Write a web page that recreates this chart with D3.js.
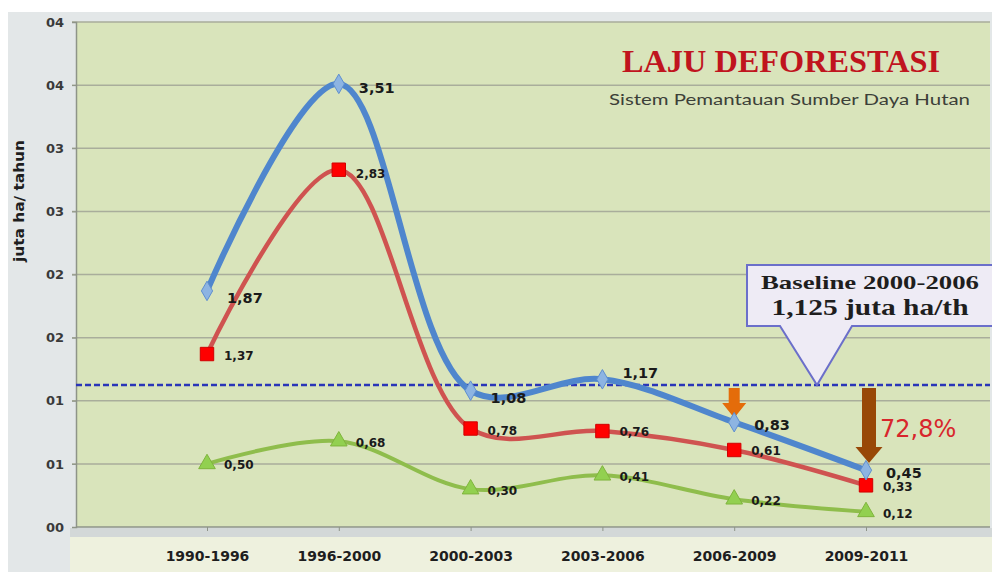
<!DOCTYPE html>
<html>
<head>
<meta charset="utf-8">
<script src="https://cdn.jsdelivr.net/npm/d3@7"></script>
<style>
  body { margin: 0; background: #fff; }
  svg { display: block; }
</style>
</head>
<body>
<div class="container"></div>
<script>
// data
const periods = ["1990-1996", "1996-2000", "2000-2003", "2003-2006", "2006-2009", "2009-2011"];
const totalRate = [1.87, 3.51, 1.08, 1.17, 0.83, 0.45];
const forestRate = [1.37, 2.83, 0.78, 0.76, 0.61, 0.33];
const otherRate = [0.50, 0.68, 0.30, 0.41, 0.22, 0.12];
const yTickValues = [0, 0.5, 1, 1.5, 2, 2.5, 3, 3.5, 4];
const yTickLabels = ["00", "01", "01", "02", "02", "03", "03", "04", "04"];
const baselineValue = 1.125;
const baselineLines = ["Baseline 2000-2006", "1,125 juta ha/th"];
const dropLabel = "72,8%";

const w = 992;
const h = 572;
const plot = { left: 76, right: 990, top: 22, bottom: 527 };

const svg = d3.select(".container")
    .append("svg")
    .attr("width", w)
    .attr("height", h);

// outer gray panel
svg.append("rect")
    .attr("x", 8).attr("y", 12)
    .attr("width", w - 8).attr("height", h - 12)
    .attr("fill", "#e3e7e8");

// plot background
svg.append("rect")
    .attr("x", plot.left).attr("y", plot.top)
    .attr("width", plot.right - plot.left).attr("height", plot.bottom - plot.top)
    .attr("fill", "#d9e4bb");

// strip + label band under the plot
svg.append("rect")
    .attr("x", 70).attr("y", plot.bottom + 1)
    .attr("width", w - 70).attr("height", 9)
    .attr("fill", "#d3d8d8");
svg.append("rect")
    .attr("x", 70).attr("y", 537)
    .attr("width", w - 70).attr("height", h - 537)
    .attr("fill", "#eef1de");

const xScale = d3.scalePoint()
    .domain(periods)
    .range([207, 866]);

const yScale = d3.scaleLinear()
    .domain([0, 4])
    .range([plot.bottom, plot.top]);

// gridlines
svg.append("g")
    .selectAll("line")
    .data(yTickValues.filter(v => v > 0))
    .enter()
    .append("line")
    .attr("x1", plot.left - 4)
    .attr("x2", plot.right)
    .attr("y1", d => yScale(d))
    .attr("y2", d => yScale(d))
    .attr("stroke", "#a9ad9b")
    .attr("stroke-width", 1.5);

// y axis
const yAxis = d3.axisLeft(yScale)
    .tickValues(yTickValues)
    .tickSize(4)
    .tickFormat((d, i) => yTickLabels[i]);

const gy = svg.append("g")
    .attr("transform", "translate(" + plot.left + ",0)")
    .call(yAxis);
gy.select(".domain").attr("stroke", "#8e9488").attr("stroke-width", 1.5);
gy.selectAll(".tick line").attr("stroke", "#8e9488");
gy.selectAll(".tick text")
    .attr("x", -12)
    .style("font-family", "DejaVu Sans")
    .style("font-weight", "bold")
    .style("font-size", "13px")
    .attr("fill", "#3a3a3a");

// x axis
const xAxis = d3.axisBottom(xScale).tickSize(4).tickPadding(20);
const gx = svg.append("g")
    .attr("transform", "translate(0," + plot.bottom + ")")
    .call(xAxis);
gx.select(".domain").attr("stroke", "#8e9488").attr("stroke-width", 1.5)
    .attr("d", "M" + plot.left + ",0H" + plot.right);
gx.selectAll(".tick line").attr("stroke", "#8e9488");
gx.selectAll(".tick text")
    .style("font-family", "DejaVu Sans")
    .style("font-weight", "bold")
    .style("font-size", "14px")
    .attr("fill", "#1e1e1e");

// y axis title
svg.append("text")
    .attr("transform", "translate(24,201) rotate(-90)")
    .attr("text-anchor", "middle")
    .attr("textLength", 122)
    .attr("lengthAdjust", "spacingAndGlyphs")
    .style("font-family", "DejaVu Sans")
    .style("font-weight", "bold")
    .style("font-size", "14px")
    .attr("fill", "#1e1e1e")
    .text("juta ha/ tahun");

// title
svg.append("text")
    .attr("x", 622).attr("y", 72)
    .attr("textLength", 318)
    .attr("lengthAdjust", "spacingAndGlyphs")
    .style("font-family", "Liberation Serif")
    .style("font-weight", "bold")
    .style("font-size", "31px")
    .attr("fill", "#c0141e")
    .text("LAJU DEFORESTASI");

svg.append("text")
    .attr("x", 609).attr("y", 105)
    .attr("textLength", 361)
    .attr("lengthAdjust", "spacingAndGlyphs")
    .style("font-family", "Lato")
    .style("font-size", "15px")
    .attr("fill", "#3c4038")
    .text("Sistem Pemantauan Sumber Daya Hutan");

// baseline dashed line
svg.append("line")
    .attr("x1", plot.left).attr("x2", plot.right)
    .attr("y1", yScale(baselineValue)).attr("y2", yScale(baselineValue))
    .attr("stroke", "#2a35b8")
    .attr("stroke-width", 2.5)
    .attr("stroke-dasharray", "6,3");

// callout
const by = yScale(baselineValue);
svg.append("path")
    .attr("d", "M747,265 H996 V326 H852 L817," + by + " L780,326 H747 Z")
    .attr("fill", "#eeebf5")
    .attr("stroke", "#6b6fca")
    .attr("stroke-width", 2);
svg.append("text")
    .attr("x", 870).attr("y", 289)
    .attr("text-anchor", "middle")
    .attr("textLength", 218)
    .attr("lengthAdjust", "spacingAndGlyphs")
    .style("font-family", "Liberation Serif")
    .style("font-weight", "bold")
    .style("font-size", "19px")
    .attr("fill", "#1e1e1e")
    .text(baselineLines[0]);
svg.append("text")
    .attr("x", 870).attr("y", 315)
    .attr("text-anchor", "middle")
    .attr("textLength", 197)
    .attr("lengthAdjust", "spacingAndGlyphs")
    .style("font-family", "Liberation Serif")
    .style("font-weight", "bold")
    .style("font-size", "23px")
    .attr("fill", "#1e1e1e")
    .text(baselineLines[1]);

// series
const series = [
    { values: otherRate, line: "#8fbd4c", width: 4, fill: "#92d050", stroke: "#7fb43c", shape: d3.symbolTriangle, size: 120,
      font: 12, dx: 17, dy: [5, 6, 6, 6, 6, 6] },
    { values: forestRate, line: "#cf5350", width: 4.5, fill: "#ff0000", stroke: "#d00000", shape: d3.symbolSquare, size: 180,
      font: 12, dx: 17, dy: [6, 8, 6, 5, 5, 6] },
    { values: totalRate, line: "#4f86cd", width: 6, fill: "#8db4e2", stroke: "#5f8fcf", shape: d3.symbolDiamond, size: 110,
      font: 14.5, dx: 20, dy: [12, 9, 12, -1, 8, 8] }
];

const line = d3.line()
    .x((d, i) => xScale(periods[i]))
    .y(d => yScale(d))
    .curve(d3.curveCatmullRom.alpha(0.5));

series.forEach(s => {
    svg.append("path")
        .datum(s.values)
        .attr("d", line)
        .attr("fill", "none")
        .attr("stroke", s.line)
        .attr("stroke-width", s.width)
        .attr("stroke-linejoin", "round");
});

// arrows
const arrows = [
    { period: "2006-2009", to: 418, color: "#e46c0a", shaft: 11, head: 24, headLen: 15 },
    { period: "2009-2011", to: 463, color: "#984807", shaft: 14, head: 27, headLen: 16 }
];
arrows.forEach(a => {
    const x = xScale(a.period) + (a.period === "2009-2011" ? 3 : 0);
    const y0 = by + 3;
    const hs = a.shaft / 2, hh = a.head / 2;
    svg.append("path")
        .attr("d", "M" + (x - hs) + "," + y0 + "V" + (a.to - a.headLen) + "H" + (x - hh) +
             "L" + x + "," + a.to + "L" + (x + hh) + "," + (a.to - a.headLen) + "H" + (x + hs) + "V" + y0 + "Z")
        .attr("fill", a.color);
});

svg.append("text")
    .attr("x", 880).attr("y", 437)
    .style("font-family", "DejaVu Sans")
    .style("font-size", "24px")
    .attr("fill", "#d8262c")
    .text(dropLabel);

series.forEach(s => {
    svg.append("g")
        .selectAll("path")
        .data(s.values)
        .enter()
        .append("path")
        .attr("transform", (d, i) => "translate(" + xScale(periods[i]) + "," + yScale(d) + ")")
        .attr("d", d3.symbol().type(s.shape).size(s.size))
        .attr("fill", s.fill)
        .attr("stroke", s.stroke)
        .attr("stroke-width", 1);

    svg.append("g")
        .selectAll("text")
        .data(s.values)
        .enter()
        .append("text")
        .attr("x", (d, i) => xScale(periods[i]) + s.dx)
        .attr("y", (d, i) => yScale(d) + s.dy[i])
        .style("font-family", "DejaVu Sans")
        .style("font-weight", "bold")
        .style("font-size", s.font + "px")
        .attr("fill", "#1a1a1a")
        .text(d => d.toFixed(2).replace(".", ","));
});
</script>
</body>
</html>
